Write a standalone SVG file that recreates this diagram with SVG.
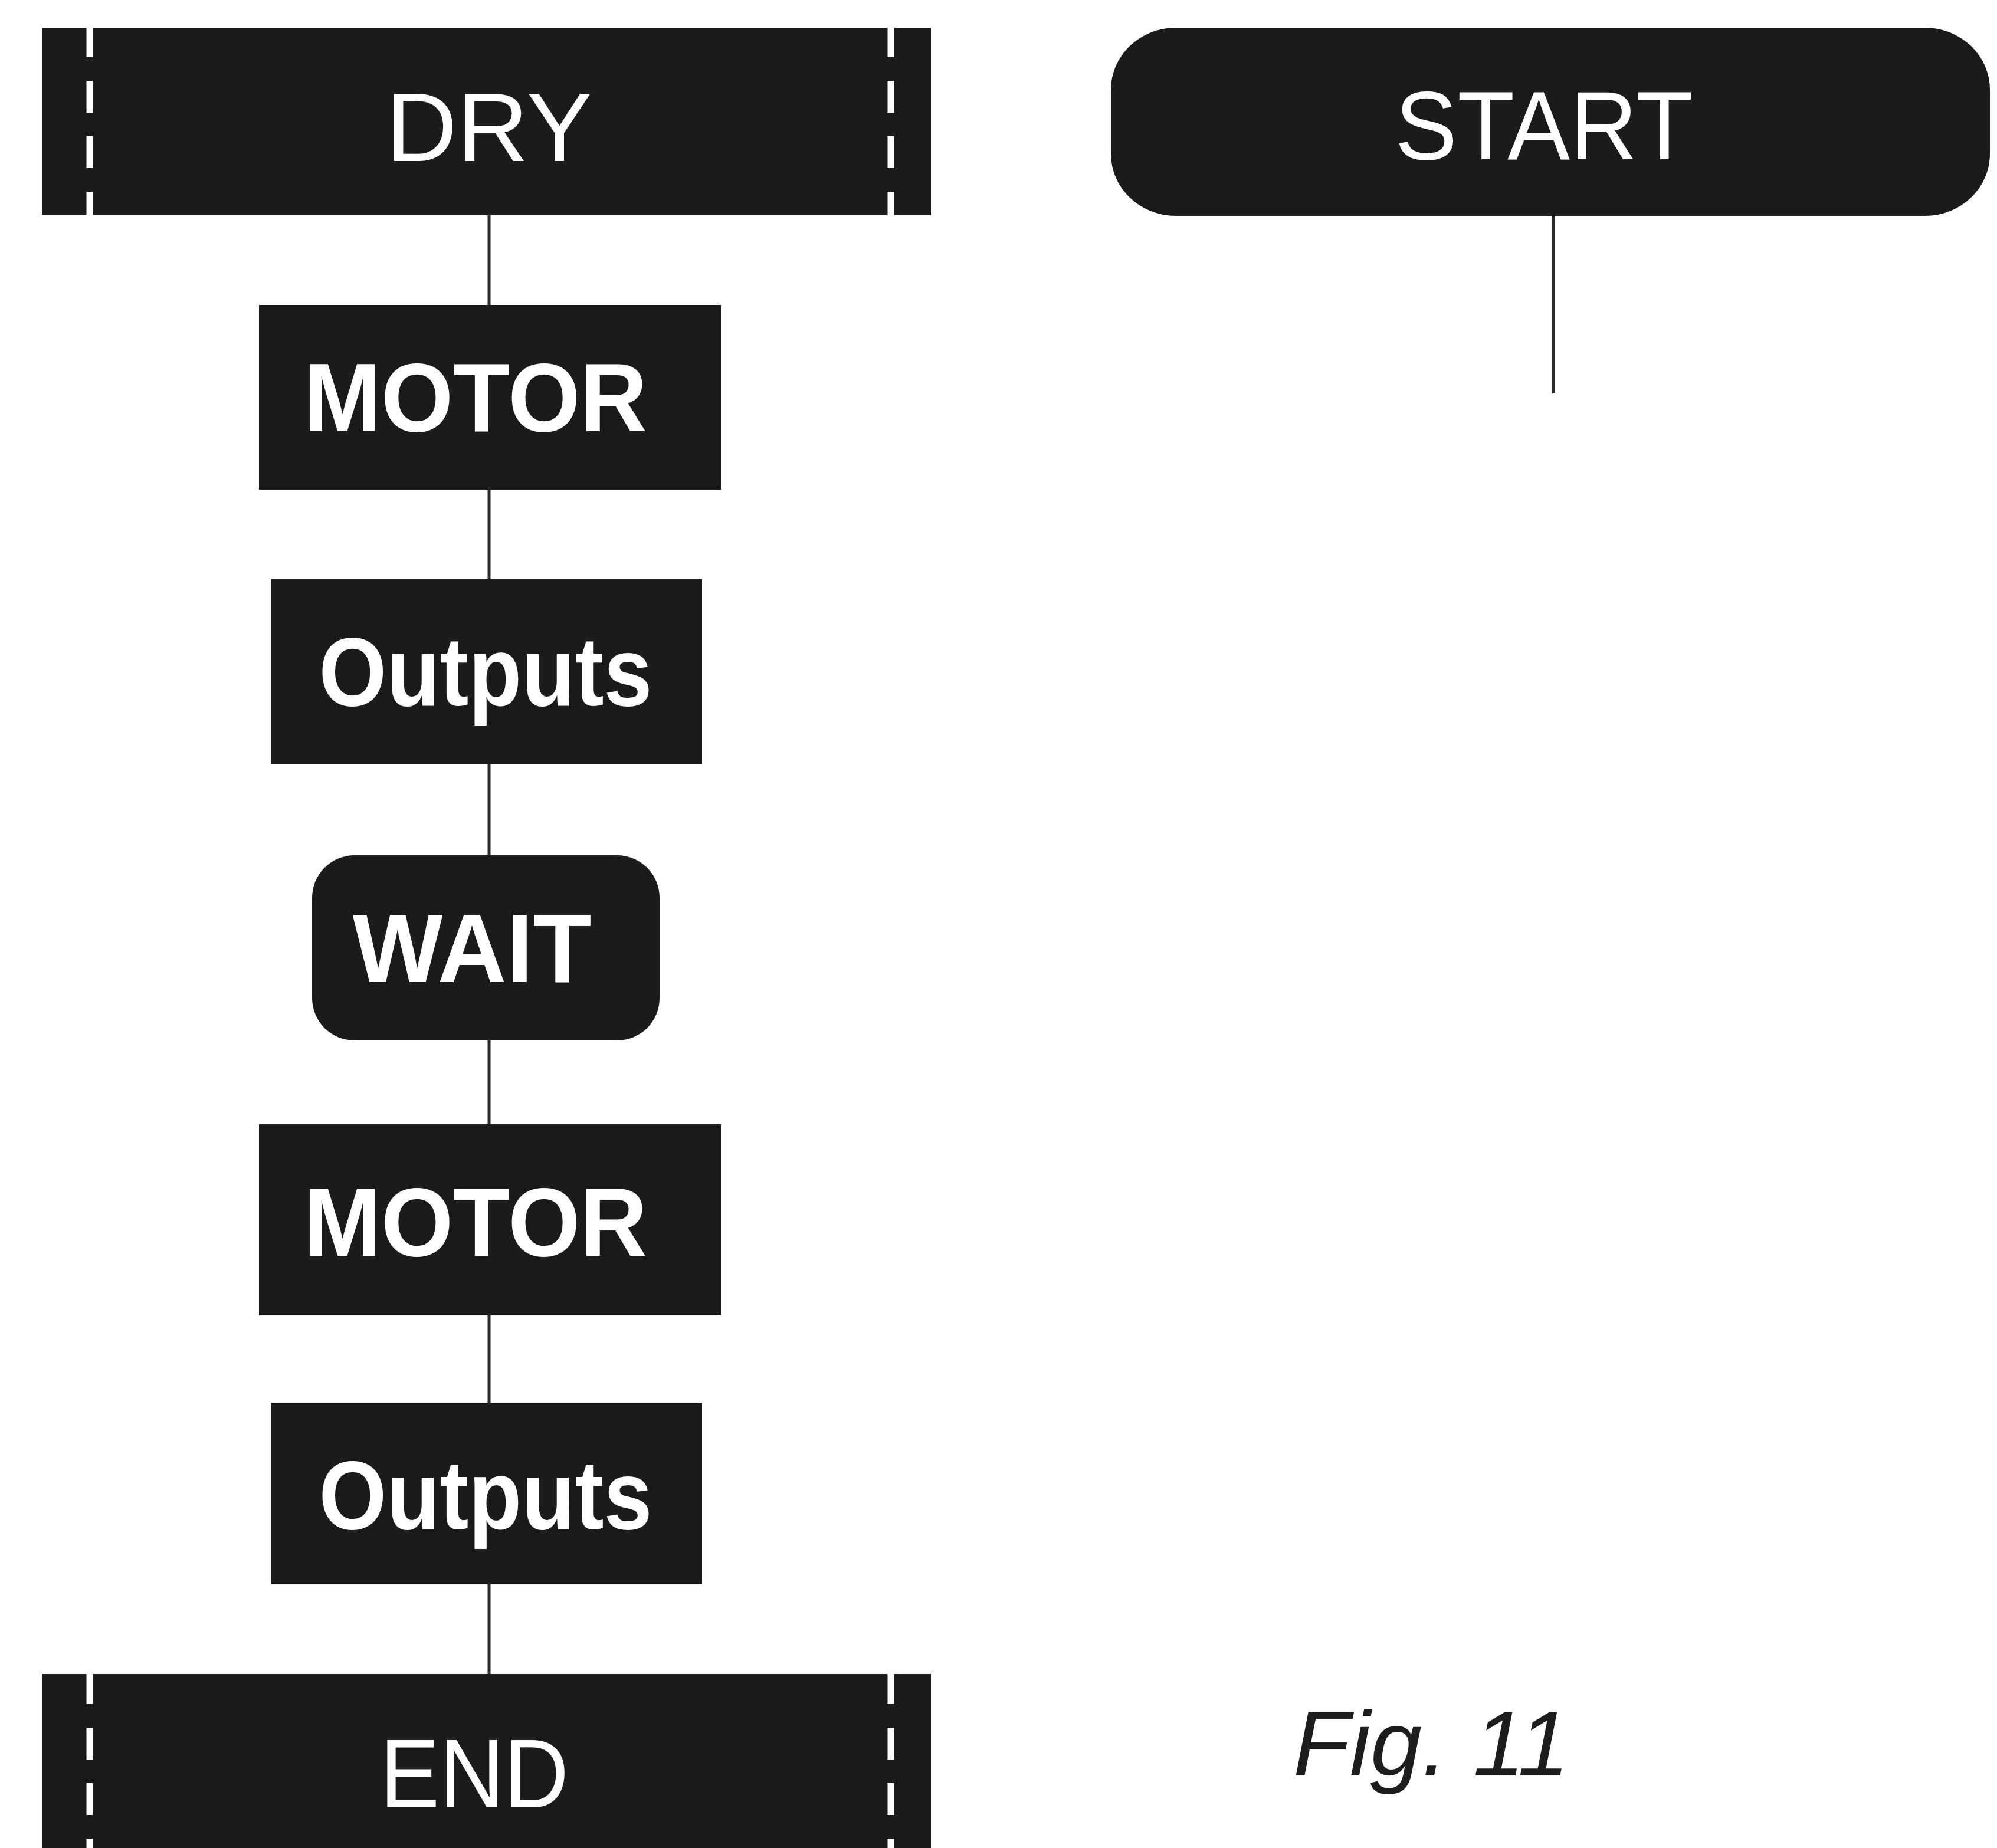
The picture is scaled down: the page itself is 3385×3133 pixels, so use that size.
<svg xmlns="http://www.w3.org/2000/svg" width="3385" height="3133" viewBox="0 0 3385 3133">
<style>
.box{fill:#1d1a1c}
.dash{stroke:#ffffff;stroke-width:11;stroke-dasharray:54 40;fill:none}
.thin{font-family:"Liberation Sans",Arial,sans-serif;font-weight:normal;fill:#ffffff;font-size:165px}
.bold{font-family:"Liberation Sans",Arial,sans-serif;font-weight:bold;fill:#ffffff;font-size:165px}
.conn{stroke:#2a2a2a;stroke-width:5;fill:none}
.cap{font-family:"Liberation Sans",Arial,sans-serif;font-style:italic;fill:#1d1d1d;font-size:156px}
</style>
<rect width="3385" height="3133" fill="#ffffff"/>
<g id="connectors">
<line class="conn" x1="829" y1="360" x2="829" y2="520"/>
<line class="conn" x1="829" y1="828" x2="829" y2="984"/>
<line class="conn" x1="829" y1="1294" x2="829" y2="1452"/>
<line class="conn" x1="829" y1="1762" x2="829" y2="1908"/>
<line class="conn" x1="829" y1="2228" x2="829" y2="2380"/>
<line class="conn" x1="829" y1="2684" x2="829" y2="2842"/>
<line class="conn" x1="2633" y1="362" x2="2633" y2="667"/>
</g>
<g id="node-dry">
<rect class="box" x="71" y="47" width="1507" height="318"/>
<line class="dash" x1="152" y1="43" x2="152" y2="367"/>
<line class="dash" x1="1510" y1="43" x2="1510" y2="367"/>
<text class="thin" x="829" y="273" text-anchor="middle" textLength="350" lengthAdjust="spacingAndGlyphs">DRY</text>
</g>
<g id="node-start">
<rect class="box" x="1883" y="47" width="1490" height="319" rx="110" ry="105"/>
<text class="thin" x="2617" y="270" text-anchor="middle" textLength="505" lengthAdjust="spacingAndGlyphs">START</text>
</g>
<g id="node-motor1">
<rect class="box" x="439" y="517" width="783" height="313"/>
<text class="bold" x="806" y="731" text-anchor="middle" textLength="582" lengthAdjust="spacingAndGlyphs">MOTOR</text>
</g>
<g id="node-outputs1">
<rect class="box" x="459" y="982" width="731" height="314"/>
<text class="bold" x="823" y="1196" text-anchor="middle" textLength="565" lengthAdjust="spacingAndGlyphs">Outputs</text>
</g>
<g id="node-wait">
<rect class="box" x="529" y="1450" width="589" height="314" rx="72" ry="72"/>
<text class="bold" x="800" y="1665" text-anchor="middle" textLength="405" lengthAdjust="spacingAndGlyphs">WAIT</text>
</g>
<g id="node-motor2">
<rect class="box" x="439" y="1906" width="783" height="324"/>
<text class="bold" x="806" y="2129" text-anchor="middle" textLength="582" lengthAdjust="spacingAndGlyphs">MOTOR</text>
</g>
<g id="node-outputs2">
<rect class="box" x="459" y="2378" width="731" height="308"/>
<text class="bold" x="823" y="2592" text-anchor="middle" textLength="565" lengthAdjust="spacingAndGlyphs">Outputs</text>
</g>
<g id="node-end">
<rect class="box" x="71" y="2838" width="1507" height="300"/>
<line class="dash" x1="152" y1="2835" x2="152" y2="3140"/>
<line class="dash" x1="1510" y1="2835" x2="1510" y2="3140"/>
<text class="thin" x="804" y="3064" text-anchor="middle" textLength="320" lengthAdjust="spacingAndGlyphs">END</text>
</g>
<text class="cap" x="2192" y="3010" textLength="468" lengthAdjust="spacingAndGlyphs">Fig. 11</text>
</svg>
